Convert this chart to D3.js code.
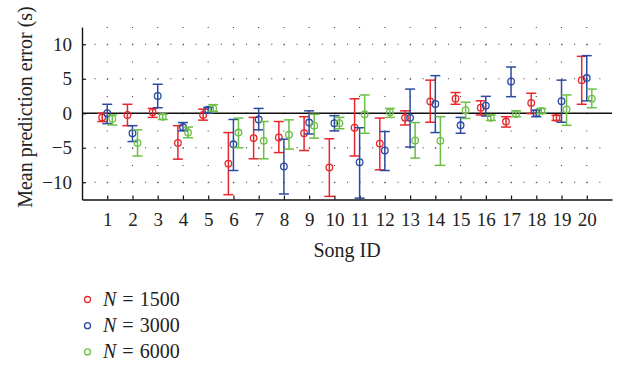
<!DOCTYPE html>
<html>
<head>
<meta charset="utf-8">
<script src="https://cdn.jsdelivr.net/npm/d3@7"></script>
<style>
  body { margin: 0; background: #fff; }
</style>
</head>
<body>
<div class="chart"></div>
<script>
// Song IDs (x categories / tick labels)
const songs = [1, 2, 3, 4, 5, 6, 7, 8, 9, 10, 11, 12, 13, 14, 15, 16, 17, 18, 19, 20];
const yTicks = [-10, -5, 0, 5, 10];

// N = 1500 (red)
const mean1500 = [-0.6, -0.25, 0.15, -4.3, -0.25, -7.3, -3.6, -3.5, -2.9, -7.85, -2.1, -4.4, -0.67, 1.7, 2.1, 0.8, -1.2, 1.5, -0.67, 4.8];
const low1500  = [-1.2, -1.8, -0.6, -6.65, -1.0, -11.8, -6.6, -5.7, -5.4, -12.05, -6.2, -8.2, -1.7, -1.3, 1.3, -0.25, -2.0, -0.05, -1.05, 1.3];
const high1500 = [0.0, 1.3, 0.7, -1.8, 0.6, -2.8, -0.6, -1.2, -0.5, -3.7, 2.1, -0.7, 0.35, 4.8, 3.0, 1.8, -0.5, 2.9, -0.3, 8.25];

// N = 3000 (blue)
const mean3000 = [0.0, -2.9, 2.5, -2.0, 0.5, -4.5, -0.9, -7.7, -1.35, -1.45, -7.1, -5.4, -0.67, 1.35, -1.75, 1.1, 4.6, 0.0, 1.75, 5.1];
const low3000  = [-1.5, -4.1, 0.8, -2.55, 0.0, -8.3, -2.4, -11.7, -3.0, -2.55, -12.3, -8.3, -4.9, -2.8, -2.9, -0.4, 2.4, -0.5, -1.3, 1.8];
const high3000 = [1.3, -1.8, 4.2, -1.35, 0.85, -0.9, 0.7, -3.75, 0.35, -0.35, -2.1, -2.65, 3.5, 5.45, -0.6, 2.45, 6.7, 0.45, 4.8, 8.35];

// N = 6000 (green)
const mean6000 = [-0.8, -4.3, -0.5, -2.8, 0.7, -2.8, -4.0, -3.1, -1.8, -1.45, -0.15, 0.15, -3.95, -4.0, 0.45, -0.65, -0.1, 0.35, 0.55, 2.1];
const low6000  = [-1.7, -6.2, -0.9, -3.55, 0.25, -5.0, -6.6, -5.2, -3.6, -2.25, -2.9, -0.6, -6.5, -7.55, -0.75, -1.05, -0.5, -0.05, -1.75, 0.8];
const high6000 = [-0.25, -2.4, -0.15, -2.0, 1.25, -0.7, -1.2, -0.96, -0.15, -0.6, 2.65, 0.7, -1.35, -0.5, 1.6, -0.25, 0.35, 0.7, 2.65, 3.5];

const seriesNames = ["1500", "3000", "6000"];
const seriesColors = ["#e8262c", "#2b4aa0", "#6cbf48"];

const FONT = "'Liberation Serif', 'Times New Roman', serif";

const draw = () => {
  const width = 619;
  const height = 368;

  let svg = d3
    .select(".chart")
    .append("svg")
    .attr("width", width)
    .attr("height", height)
    .attr("font-family", FONT);

  // build rows per series
  const series = [
    { name: seriesNames[0], color: seriesColors[0], offset: -0.2, mean: mean1500, low: low1500, high: high1500 },
    { name: seriesNames[1], color: seriesColors[1], offset: 0, mean: mean3000, low: low3000, high: high3000 },
    { name: seriesNames[2], color: seriesColors[2], offset: 0.2, mean: mean6000, low: low6000, high: high6000 },
  ];

  let x = d3.scaleLinear().domain([0, 21]).range([82, 612]);
  let y = d3.scaleLinear().domain([-12.5, 12.5]).range([199.5, 27]);

  // dotted grid
  const xStep = x(0.5) - x(0);
  const yStep = y(0) - y(2.5);
  svg.append("g")
    .selectAll("line")
    .data(yTicks)
    .join("line")
    .attr("x1", x(0))
    .attr("x2", x(21))
    .attr("y1", (d) => y(d))
    .attr("y2", (d) => y(d))
    .attr("stroke", "#333")
    .attr("stroke-width", 1)
    .attr("stroke-dasharray", "1," + (xStep - 1));

  svg.append("g")
    .selectAll("line")
    .data(songs)
    .join("line")
    .attr("x1", (d) => x(d))
    .attr("x2", (d) => x(d))
    .attr("y1", y(12.5))
    .attr("y2", y(-12.5))
    .attr("stroke", "#333")
    .attr("stroke-width", 1)
    .attr("stroke-dasharray", "1," + (yStep - 1));

  // zero line
  svg.append("line")
    .attr("x1", x(0))
    .attr("x2", x(21))
    .attr("y1", y(0))
    .attr("y2", y(0))
    .attr("stroke", "#111")
    .attr("stroke-width", 1.4);

  // axes, ticks pointing inward
  let xAxis = svg.append("g")
    .attr("transform", "translate(0," + y(-12.5) + ")")
    .call(d3.axisBottom(x).tickValues(songs).tickFormat(d3.format("d"))
      .tickSizeInner(-4).tickSizeOuter(0).tickPadding(13));

  let yAxis = svg.append("g")
    .attr("transform", "translate(" + x(0) + ",0)")
    .call(d3.axisLeft(y).tickValues(yTicks).tickSizeInner(-4).tickSizeOuter(0).tickPadding(10));

  [xAxis, yAxis].forEach((a) => {
    a.attr("font-family", FONT);
    a.select(".domain").attr("stroke", "#111").attr("stroke-width", 1.4);
    a.selectAll(".tick line").attr("stroke", "#111").attr("stroke-width", 1.2);
    a.selectAll("text").attr("font-size", 19).attr("fill", "#222");
  });

  // error bars
  const cap = 5;
  series.forEach((s) => {
    let g = svg.append("g")
      .attr("stroke", s.color)
      .attr("stroke-width", 1.5)
      .attr("fill", "none");
    const rows = songs.map((id, i) => ({ id: id, mean: s.mean[i], low: s.low[i], high: s.high[i] }));
    const px = (d) => x(d.id + s.offset);

    g.selectAll(".bar").data(rows).join("line")
      .attr("x1", px).attr("x2", px)
      .attr("y1", (d) => y(d.low)).attr("y2", (d) => y(d.high));
    g.selectAll(".capLow").data(rows).join("line")
      .attr("x1", (d) => px(d) - cap).attr("x2", (d) => px(d) + cap)
      .attr("y1", (d) => y(d.low)).attr("y2", (d) => y(d.low));
    g.selectAll(".capHigh").data(rows).join("line")
      .attr("x1", (d) => px(d) - cap).attr("x2", (d) => px(d) + cap)
      .attr("y1", (d) => y(d.high)).attr("y2", (d) => y(d.high));
    g.selectAll("circle").data(rows).join("circle")
      .attr("cx", px)
      .attr("cy", (d) => y(d.mean))
      .attr("r", 3.3)
      .attr("stroke-width", 1.3);
  });

  // axis titles
  svg.append("text")
    .attr("transform", "translate(32,107) rotate(-90)")
    .attr("text-anchor", "middle")
    .attr("font-size", 20)
    .attr("fill", "#222")
    .text("Mean prediction error (s)");

  svg.append("text")
    .attr("x", (x(0) + x(21)) / 2)
    .attr("y", 257)
    .attr("text-anchor", "middle")
    .attr("font-size", 20)
    .attr("fill", "#222")
    .text("Song ID");

  // legend
  let legend = svg.append("g").attr("transform", "translate(87.5,299.5)");
  series.forEach((s, i) => {
    let row = legend.append("g").attr("transform", "translate(0," + i * 26.2 + ")");
    row.append("circle")
      .attr("r", 3)
      .attr("fill", "none")
      .attr("stroke", s.color)
      .attr("stroke-width", 1.3);
    let t = row.append("text")
      .attr("x", 15.5)
      .attr("y", 6.5)
      .attr("font-size", 20)
      .attr("fill", "#222");
    t.append("tspan").attr("font-style", "italic").text("N");
    t.append("tspan").attr("dx", 6).text("=");
    t.append("tspan").attr("dx", 6).text(s.name);
  });
};

draw();
</script>
</body>
</html>
